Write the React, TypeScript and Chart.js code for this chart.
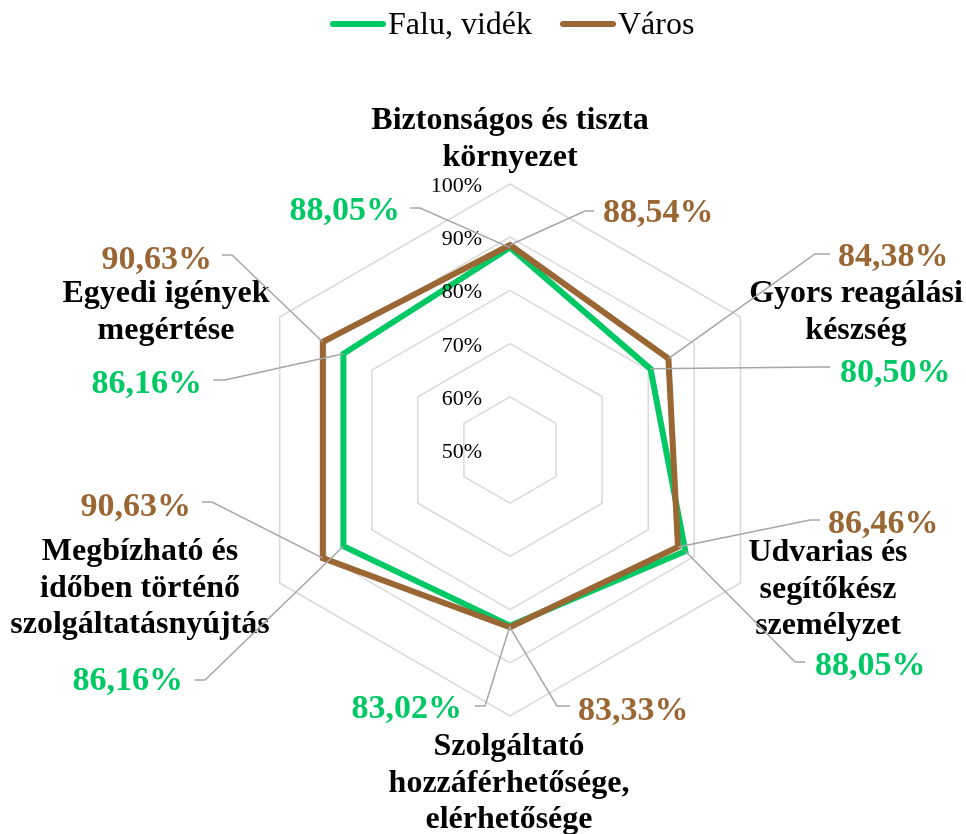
import React, { useEffect, useRef } from 'react';
import { Chart, registerables } from 'chart.js';

Chart.register(...registerables);

const categories: string[][] = [
  ['Biztonságos és tiszta', 'környezet'],
  ['Gyors reagálási', 'készség'],
  ['Udvarias és', 'segítőkész', 'személyzet'],
  ['Szolgáltató', 'hozzáférhetősége,', 'elérhetősége'],
  ['Megbízható és', 'időben történő', 'szolgáltatásnyújtás'],
  ['Egyedi igények', 'megértése'],
];
const seriesNames = ['Falu, vidék', 'Város'];
const faluValues = [88.05, 80.5, 88.05, 83.02, 86.16, 86.16];
const varosValues = [88.54, 84.38, 86.46, 83.33, 90.63, 90.63];
const tickValues = [50, 60, 70, 80, 90, 100];

const GREEN = '#00C864';
const BROWN = '#9A6634';
const FONT = "'Liberation Serif', 'Times New Roman', serif";

// label layout relative to radar centre: elbow x/y, horizontal end x, text x, align, baseline y
type Lay = { ex: number; ey: number; hx: number; tx: number; al: CanvasTextAlign; by: number };
const faluLayout: Lay[] = [
  { ex: -90, ey: -242, hx: -100, tx: -110, al: 'right', by: -230 },
  { ex: 310, ey: -83, hx: 320, tx: 330, al: 'left', by: -68 },
  { ex: 285, ey: 212, hx: 295, tx: 305, al: 'left', by: 225 },
  { ex: -25, ey: 256, hx: -35, tx: -48, al: 'right', by: 268 },
  { ex: -305, ey: 230, hx: -315, tx: -327, al: 'right', by: 240 },
  { ex: -285, ey: -70, hx: -297, tx: -308, al: 'right', by: -57 },
];
const varosLayout: Lay[] = [
  { ex: 75, ey: -239, hx: 84, tx: 93, al: 'left', by: -228 },
  { ex: 305, ey: -196, hx: 320, tx: 328, al: 'left', by: -184 },
  { ex: 300, ey: 70, hx: 310, tx: 318, al: 'left', by: 83 },
  { ex: 47, ey: 256, hx: 60, tx: 68, al: 'left', by: 270 },
  { ex: -298, ey: 52, hx: -308, tx: -319, al: 'right', by: 66 },
  { ex: -278, ey: -195, hx: -288, tx: -298, al: 'right', by: -181 },
];
const catLayout = [
  { x: 0, y: -321 },
  { x: 346, y: -148 },
  { x: 318, y: 111 },
  { x: -1, y: 305 },
  { x: -370, y: 110 },
  { x: -344, y: -148 },
];

const fmt = (v: number) => v.toFixed(2).replace('.', ',') + '%';

const overlayPlugin = {
  id: 'overlay',
  afterDatasetsDraw(chart: any) {
    const ctx: CanvasRenderingContext2D = chart.ctx;
    const scale = chart.scales.r;
    const cx = scale.xCenter;
    const cy = scale.yCenter;
    ctx.save();

    // tick labels
    ctx.font = `22px ${FONT}`;
    ctx.fillStyle = '#000';
    ctx.textAlign = 'right';
    ctx.textBaseline = 'alphabetic';
    tickValues.forEach((v) => {
      const y = cy - scale.getDistanceFromCenterForValue(v);
      ctx.fillText(v + '%', cx - 28, y + 8);
    });

    // category labels
    ctx.font = `bold 32px ${FONT}`;
    ctx.textAlign = 'center';
    categories.forEach((lines, i) => {
      const l = catLayout[i];
      lines.forEach((t, j) => ctx.fillText(t, cx + l.x, cy + l.y + j * 36.5));
    });

    // data labels + leader lines
    const sets = [
      { vals: faluValues, lay: faluLayout, color: GREEN },
      { vals: varosValues, lay: varosLayout, color: BROWN },
    ];
    sets.forEach((s) => {
      s.vals.forEach((v, i) => {
        const p = scale.getPointPositionForValue(i, v);
        const l = s.lay[i];
        ctx.strokeStyle = '#A6A6A6';
        ctx.lineWidth = 1.5;
        ctx.beginPath();
        ctx.moveTo(p.x, p.y);
        ctx.lineTo(cx + l.ex, cy + l.ey);
        ctx.lineTo(cx + l.hx, cy + l.ey);
        ctx.stroke();
        ctx.font = `bold 34px ${FONT}`;
        ctx.fillStyle = s.color;
        ctx.textAlign = l.al;
        ctx.fillText(fmt(v), cx + l.tx, cy + l.by);
      });
    });

    // legend
    const legend = [
      { name: seriesNames[0], color: GREEN, x: 330 },
      { name: seriesNames[1], color: BROWN, x: 560 },
    ];
    ctx.font = `32px ${FONT}`;
    ctx.textAlign = 'left';
    ctx.lineCap = 'round';
    legend.forEach((it) => {
      ctx.strokeStyle = it.color;
      ctx.lineWidth = 6;
      ctx.beginPath();
      ctx.moveTo(it.x + 3, 24);
      ctx.lineTo(it.x + 53, 24);
      ctx.stroke();
      ctx.fillStyle = '#000';
      ctx.fillText(it.name, it.x + 58, 34);
    });
    ctx.restore();
  },
};

export default function App() {
  const ref = useRef<HTMLCanvasElement | null>(null);
  useEffect(() => {
    if (!ref.current) return;
    const chart = new Chart(ref.current, {
      type: 'radar',
      data: {
        labels: categories.map((c) => c.join(' ')),
        datasets: [
          {
            label: seriesNames[0],
            data: faluValues,
            borderColor: GREEN,
            backgroundColor: 'transparent',
            borderWidth: 6,
            pointRadius: 0,
            borderJoinStyle: 'miter',
            fill: false,
            order: 1,
          },
          {
            label: seriesNames[1],
            data: varosValues,
            borderColor: BROWN,
            backgroundColor: 'transparent',
            borderWidth: 6,
            pointRadius: 0,
            borderJoinStyle: 'miter',
            fill: false,
            order: 0,
          },
        ],
      },
      options: {
        responsive: false,
        animation: false,
        devicePixelRatio: 1,
        layout: { padding: { left: 244, right: 190, top: 184, bottom: 118 } },
        plugins: { legend: { display: false }, tooltip: { enabled: false } },
        scales: {
          r: {
            min: 50,
            max: 100,
            ticks: { stepSize: 10, display: false },
            grid: { color: '#D9D9D9', lineWidth: 1.5 },
            angleLines: { display: false },
            pointLabels: { display: false },
          },
        },
      },
      plugins: [overlayPlugin],
    } as any);
    return () => chart.destroy();
  }, []);
  return (
    <div style={{ position: 'fixed', left: 0, top: 0, width: 966, height: 834, background: '#fff' }}>
      <canvas ref={ref} width={966} height={834} style={{ display: 'block' }} />
    </div>
  );
}
